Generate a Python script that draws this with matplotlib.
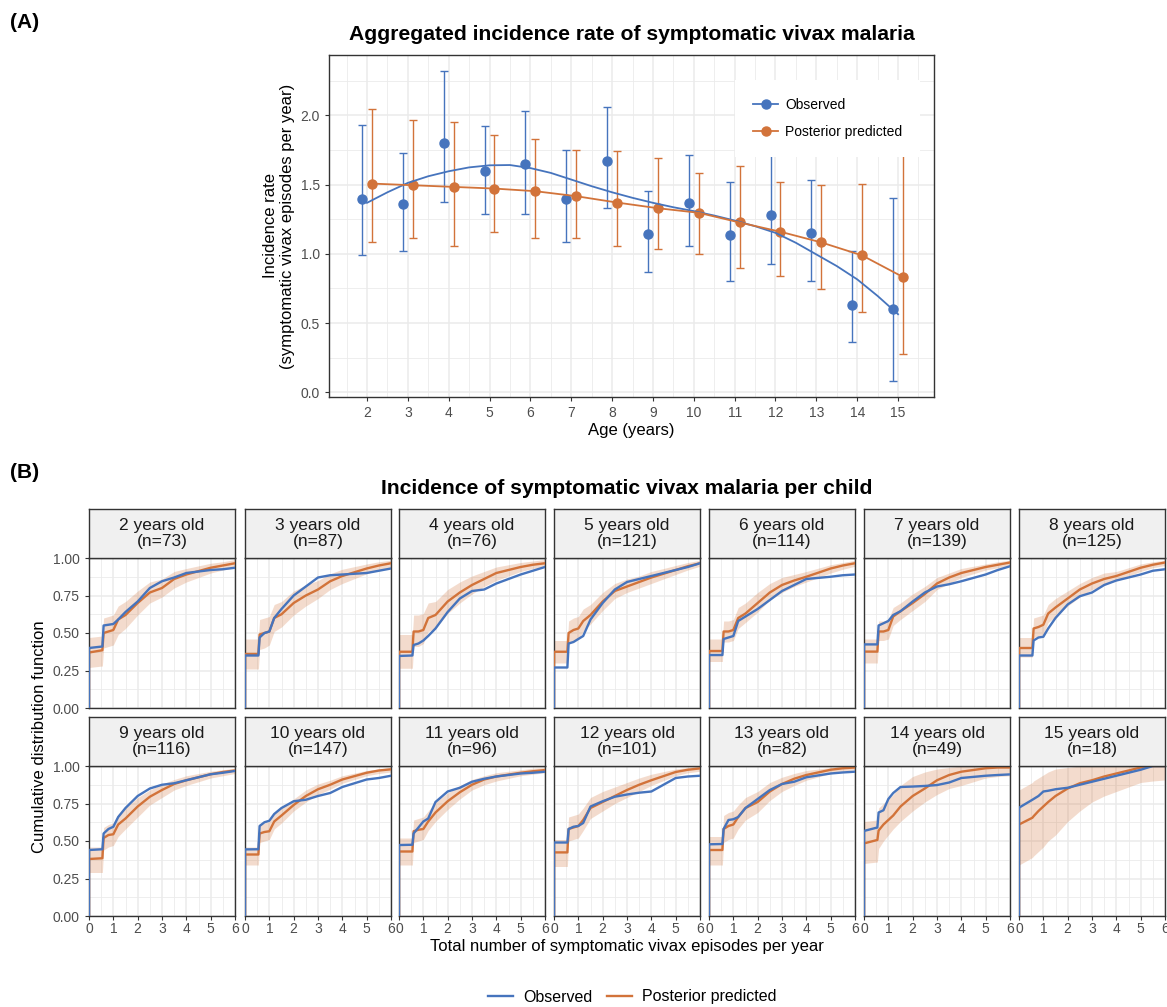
import numpy as np
import matplotlib
matplotlib.use('Agg')
import matplotlib.pyplot as plt
from matplotlib.lines import Line2D

plt.rcParams['font.family'] = ['Liberation Sans', 'DejaVu Sans']

W, H = 1167, 1007
col_obs = '#4674BD'
col_pred = '#D2733A'
grid_col = '#EBEBEB'
frame_col = '#333333'
tick_col = '#4D4D4D'

# ---------------- panel A data ----------------
ages = [2, 3, 4, 5, 6, 7, 8, 9, 10, 11, 12, 13, 14, 15]
obs_rate = [1.40, 1.36, 1.80, 1.60, 1.65, 1.40, 1.67, 1.145, 1.366, 1.136, 1.28, 1.15, 0.634, 0.605]
obs_lo = [0.994, 1.018, 1.378, 1.285, 1.289, 1.085, 1.333, 0.872, 1.056, 0.804, 0.929, 0.804, 0.36, 0.084]
obs_hi = [1.933, 1.729, 2.324, 1.926, 2.036, 1.748, 2.058, 1.457, 1.712, 1.517, 1.76, 1.537, 1.023, 1.402]
pred_rate = [1.508, 1.496, 1.484, 1.472, 1.453, 1.417, 1.371, 1.33, 1.297, 1.227, 1.16, 1.083, 0.989, 0.833]
pred_lo = [1.085, 1.114, 1.056, 1.157, 1.114, 1.116, 1.059, 1.032, 1.001, 0.898, 0.843, 0.747, 0.583, 0.276]
pred_hi = [2.046, 1.964, 1.952, 1.856, 1.83, 1.75, 1.741, 1.695, 1.585, 1.635, 1.517, 1.496, 1.503, 1.85]
# loess smooth of observed rates
smooth_age = [2.0, 2.5, 3.0, 3.5, 4.0, 4.5, 5.0, 5.5, 6.0, 6.5, 7.0, 7.5, 8.0, 8.5,
              9.0, 9.5, 10.0, 10.5, 11.0, 11.5, 12.0, 12.5, 13.0, 13.5, 14.0, 14.5, 15.0]
smooth_obs = [1.369, 1.445, 1.513, 1.561, 1.597, 1.625, 1.64, 1.642, 1.62, 1.585, 1.537, 1.489, 1.445, 1.405,
              1.369, 1.337, 1.309, 1.277, 1.241, 1.20, 1.152, 1.08, 0.996, 0.912, 0.816, 0.696, 0.564]

# ---------------- panel B data ----------------
facet_age = [2, 3, 4, 5, 6, 7, 8, 9, 10, 11, 12, 13, 14, 15]
facet_n = [73, 87, 76, 121, 114, 139, 125, 116, 147, 96, 101, 82, 49, 18]
episodes = [0, 0.55, 0.6, 0.8, 1.0, 1.2, 1.5, 2.0, 2.5, 3.0, 3.5, 4.0, 5.0, 5.5, 6.0]

cdf_obs = [
    [0.40, 0.41, 0.55, 0.555, 0.56, 0.59, 0.64, 0.71, 0.80, 0.845, 0.87, 0.90, 0.92, 0.925, 0.935],
    [0.35, 0.35, 0.47, 0.50, 0.51, 0.60, 0.66, 0.75, 0.81, 0.87, 0.885, 0.89, 0.90, 0.915, 0.93],
    [0.347, 0.35, 0.42, 0.43, 0.45, 0.48, 0.53, 0.64, 0.73, 0.78, 0.79, 0.83, 0.89, 0.915, 0.94],
    [0.27, 0.27, 0.43, 0.44, 0.46, 0.48, 0.59, 0.70, 0.79, 0.84, 0.86, 0.88, 0.92, 0.94, 0.965],
    [0.353, 0.353, 0.46, 0.47, 0.48, 0.58, 0.61, 0.66, 0.72, 0.78, 0.82, 0.86, 0.875, 0.885, 0.89],
    [0.424, 0.424, 0.55, 0.565, 0.58, 0.62, 0.645, 0.71, 0.77, 0.81, 0.825, 0.845, 0.89, 0.92, 0.945],
    [0.35, 0.35, 0.45, 0.47, 0.475, 0.53, 0.60, 0.69, 0.745, 0.77, 0.82, 0.85, 0.89, 0.915, 0.925],
    [0.44, 0.445, 0.55, 0.58, 0.595, 0.66, 0.72, 0.80, 0.85, 0.875, 0.885, 0.905, 0.945, 0.955, 0.967],
    [0.444, 0.445, 0.60, 0.625, 0.635, 0.68, 0.72, 0.765, 0.775, 0.80, 0.82, 0.86, 0.91, 0.92, 0.935],
    [0.473, 0.475, 0.55, 0.59, 0.63, 0.65, 0.76, 0.83, 0.855, 0.895, 0.915, 0.93, 0.95, 0.955, 0.962],
    [0.49, 0.49, 0.58, 0.595, 0.60, 0.62, 0.73, 0.765, 0.795, 0.81, 0.822, 0.83, 0.92, 0.93, 0.935],
    [0.478, 0.48, 0.58, 0.64, 0.645, 0.66, 0.72, 0.78, 0.84, 0.88, 0.895, 0.925, 0.95, 0.957, 0.962],
    [0.567, 0.59, 0.69, 0.705, 0.78, 0.82, 0.86, 0.863, 0.867, 0.873, 0.89, 0.92, 0.935, 0.94, 0.944],
    [0.722, 0.775, 0.78, 0.80, 0.83, 0.835, 0.845, 0.855, 0.875, 0.895, 0.915, 0.935, 0.975, 1.0, 1.0],
]
cdf_pred = [
    [0.37, 0.385, 0.50, 0.51, 0.52, 0.59, 0.62, 0.70, 0.77, 0.80, 0.86, 0.89, 0.935, 0.95, 0.965],
    [0.36, 0.36, 0.49, 0.50, 0.51, 0.60, 0.625, 0.70, 0.75, 0.79, 0.845, 0.88, 0.93, 0.95, 0.965],
    [0.375, 0.375, 0.51, 0.51, 0.52, 0.60, 0.62, 0.71, 0.77, 0.82, 0.86, 0.90, 0.94, 0.955, 0.965],
    [0.375, 0.375, 0.50, 0.52, 0.53, 0.58, 0.62, 0.71, 0.78, 0.81, 0.84, 0.87, 0.92, 0.945, 0.965],
    [0.38, 0.38, 0.51, 0.51, 0.52, 0.60, 0.63, 0.70, 0.77, 0.82, 0.85, 0.875, 0.93, 0.95, 0.965],
    [0.376, 0.376, 0.51, 0.51, 0.52, 0.61, 0.645, 0.70, 0.76, 0.83, 0.87, 0.90, 0.94, 0.955, 0.97],
    [0.40, 0.40, 0.53, 0.54, 0.555, 0.63, 0.67, 0.73, 0.79, 0.83, 0.86, 0.88, 0.935, 0.955, 0.97],
    [0.38, 0.385, 0.52, 0.54, 0.545, 0.61, 0.65, 0.73, 0.795, 0.84, 0.88, 0.905, 0.945, 0.96, 0.97],
    [0.41, 0.41, 0.55, 0.56, 0.565, 0.63, 0.67, 0.74, 0.80, 0.845, 0.875, 0.91, 0.955, 0.97, 0.978],
    [0.43, 0.43, 0.565, 0.575, 0.58, 0.63, 0.69, 0.765, 0.825, 0.875, 0.91, 0.93, 0.955, 0.965, 0.973],
    [0.424, 0.424, 0.58, 0.59, 0.60, 0.64, 0.72, 0.76, 0.80, 0.84, 0.875, 0.905, 0.96, 0.975, 0.984],
    [0.44, 0.44, 0.58, 0.60, 0.61, 0.66, 0.72, 0.76, 0.83, 0.88, 0.915, 0.94, 0.975, 0.985, 0.99],
    [0.484, 0.507, 0.57, 0.61, 0.64, 0.67, 0.73, 0.80, 0.85, 0.905, 0.94, 0.962, 0.985, 0.99, 0.99],
    [0.61, 0.655, 0.665, 0.70, 0.73, 0.76, 0.80, 0.85, 0.885, 0.905, 0.93, 0.95, 0.99, 1.0, 1.0],
]
cdf_lo = [
    [0.27, 0.28, 0.40, 0.41, 0.42, 0.49, 0.53, 0.62, 0.70, 0.74, 0.80, 0.84, 0.90, 0.92, 0.935],
    [0.26, 0.26, 0.39, 0.40, 0.42, 0.51, 0.54, 0.62, 0.68, 0.73, 0.79, 0.83, 0.895, 0.92, 0.94],
    [0.265, 0.265, 0.41, 0.41, 0.43, 0.51, 0.53, 0.63, 0.70, 0.76, 0.81, 0.85, 0.91, 0.93, 0.945],
    [0.30, 0.30, 0.43, 0.45, 0.46, 0.51, 0.56, 0.65, 0.73, 0.77, 0.80, 0.83, 0.89, 0.92, 0.945],
    [0.31, 0.31, 0.44, 0.44, 0.45, 0.53, 0.57, 0.64, 0.72, 0.77, 0.81, 0.84, 0.90, 0.925, 0.945],
    [0.30, 0.30, 0.45, 0.45, 0.46, 0.55, 0.59, 0.65, 0.71, 0.79, 0.83, 0.87, 0.92, 0.935, 0.95],
    [0.34, 0.34, 0.47, 0.48, 0.49, 0.57, 0.61, 0.68, 0.74, 0.79, 0.82, 0.85, 0.91, 0.935, 0.95],
    [0.29, 0.29, 0.44, 0.46, 0.47, 0.53, 0.58, 0.66, 0.74, 0.79, 0.84, 0.87, 0.92, 0.935, 0.95],
    [0.34, 0.34, 0.49, 0.50, 0.51, 0.58, 0.62, 0.70, 0.76, 0.81, 0.845, 0.885, 0.935, 0.95, 0.96],
    [0.34, 0.34, 0.49, 0.50, 0.51, 0.57, 0.63, 0.71, 0.78, 0.84, 0.875, 0.90, 0.935, 0.945, 0.955],
    [0.33, 0.33, 0.50, 0.51, 0.52, 0.57, 0.65, 0.70, 0.75, 0.79, 0.83, 0.87, 0.935, 0.955, 0.965],
    [0.34, 0.34, 0.49, 0.51, 0.52, 0.58, 0.64, 0.69, 0.77, 0.83, 0.87, 0.905, 0.95, 0.965, 0.975],
    [0.35, 0.36, 0.45, 0.50, 0.54, 0.58, 0.63, 0.70, 0.76, 0.81, 0.85, 0.87, 0.92, 0.93, 0.935],
    [0.34, 0.39, 0.40, 0.43, 0.46, 0.50, 0.54, 0.63, 0.70, 0.76, 0.80, 0.83, 0.89, 0.90, 0.907],
]
cdf_hi = [
    [0.47, 0.48, 0.60, 0.61, 0.62, 0.68, 0.71, 0.78, 0.84, 0.86, 0.91, 0.93, 0.965, 0.975, 0.99],
    [0.46, 0.46, 0.59, 0.60, 0.61, 0.69, 0.71, 0.78, 0.82, 0.85, 0.895, 0.925, 0.96, 0.975, 0.985],
    [0.49, 0.49, 0.62, 0.62, 0.63, 0.70, 0.71, 0.79, 0.84, 0.88, 0.91, 0.94, 0.97, 0.98, 0.99],
    [0.45, 0.45, 0.58, 0.60, 0.61, 0.66, 0.69, 0.77, 0.83, 0.86, 0.88, 0.91, 0.95, 0.97, 0.985],
    [0.46, 0.46, 0.58, 0.58, 0.59, 0.67, 0.70, 0.77, 0.83, 0.87, 0.89, 0.91, 0.955, 0.97, 0.985],
    [0.46, 0.46, 0.58, 0.58, 0.59, 0.67, 0.70, 0.76, 0.81, 0.87, 0.90, 0.93, 0.96, 0.975, 0.985],
    [0.47, 0.47, 0.60, 0.61, 0.62, 0.69, 0.73, 0.78, 0.83, 0.87, 0.90, 0.91, 0.96, 0.975, 0.985],
    [0.46, 0.46, 0.59, 0.61, 0.62, 0.68, 0.72, 0.79, 0.84, 0.88, 0.91, 0.935, 0.965, 0.975, 0.985],
    [0.46, 0.46, 0.61, 0.62, 0.63, 0.69, 0.72, 0.78, 0.84, 0.88, 0.905, 0.935, 0.97, 0.98, 0.99],
    [0.52, 0.52, 0.64, 0.65, 0.66, 0.70, 0.76, 0.82, 0.87, 0.91, 0.935, 0.955, 0.975, 0.985, 0.99],
    [0.51, 0.51, 0.66, 0.67, 0.68, 0.72, 0.79, 0.83, 0.86, 0.89, 0.92, 0.945, 0.98, 0.99, 1.0],
    [0.53, 0.53, 0.67, 0.69, 0.70, 0.74, 0.79, 0.83, 0.89, 0.925, 0.95, 0.97, 0.99, 1.0, 1.0],
    [0.63, 0.64, 0.72, 0.75, 0.78, 0.81, 0.87, 0.93, 0.96, 0.98, 0.99, 1.0, 1.0, 1.0, 1.0],
    [0.84, 0.89, 0.90, 0.92, 0.94, 0.96, 0.98, 0.99, 1.0, 1.0, 1.0, 1.0, 1.0, 1.0, 1.0],
]


def px_axes(l, t, r, b):
    return fig.add_axes([l / W, 1 - b / H, (r - l) / W, (b - t) / H])


def style_frame(ax):
    for s in ax.spines.values():
        s.set_color(frame_col)
        s.set_linewidth(1.0)
    ax.tick_params(colors=frame_col, labelcolor=tick_col, length=3, width=0.8, labelsize=10)
    ax.tick_params(which='minor', length=0)
    ax.grid(which='major', color=grid_col, linewidth=1.1, zorder=0)
    ax.grid(which='minor', color=grid_col, linewidth=0.6, zorder=0)
    ax.set_axisbelow(True)


fig = plt.figure(figsize=(W / 100, H / 100), dpi=100)

# ================= (A) =================
fig.text(10 / W, 1 - 22 / H, '(A)', fontsize=15, fontweight='bold', va='center', ha='left')
fig.text(632 / W, 1 - 35 / H, 'Aggregated incidence rate of symptomatic vivax malaria',
         fontsize=15.2, fontweight='bold', va='center', ha='center')

axA = px_axes(329, 55, 934, 397)
style_frame(axA)
ages_arr = np.array(ages)
dodge = 0.12
axA.errorbar(ages_arr - dodge, obs_rate,
             yerr=[np.array(obs_rate) - np.array(obs_lo), np.array(obs_hi) - np.array(obs_rate)],
             fmt='o', color=col_obs, ms=6.5, elinewidth=1.0, capsize=3, capthick=1.0, zorder=3)
axA.errorbar(ages_arr + dodge, pred_rate,
             yerr=[np.array(pred_rate) - np.array(pred_lo), np.array(pred_hi) - np.array(pred_rate)],
             fmt='o', color=col_pred, ms=6.5, elinewidth=1.0, capsize=3, capthick=1.0, zorder=3)
axA.plot(smooth_age, smooth_obs, color=col_obs, lw=1.3, zorder=4)
axA.plot(ages_arr + dodge, pred_rate, color=col_pred, lw=1.3, zorder=4)
axA.set_xlim(1.07, 15.88)
axA.set_ylim(-0.034, 2.437)
axA.set_xticks(ages)
axA.set_xticks(np.arange(1.5, 16, 1), minor=True)
axA.set_yticks([0.0, 0.5, 1.0, 1.5, 2.0])
axA.set_yticklabels(['0.0', '0.5', '1.0', '1.5', '2.0'])
axA.set_yticks([0.25, 0.75, 1.25, 1.75, 2.25], minor=True)
axA.set_xlabel('Age (years)', fontsize=12, labelpad=2)
axA.set_ylabel('Incidence rate\n(symptomatic vivax episodes per year)', fontsize=12, labelpad=4)
hA = [Line2D([], [], color=col_obs, marker='o', ms=6.5, lw=1.3),
      Line2D([], [], color=col_pred, marker='o', ms=6.5, lw=1.3)]
legA = axA.legend(hA, ['Observed', 'Posterior predicted'], loc='upper left',
                  bbox_to_anchor=((735 - 329) / 605, 1 - (80 - 55) / 342),
                  frameon=True, fancybox=False, facecolor='white', edgecolor='none', framealpha=1,
                  fontsize=10, handlelength=1.8, labelspacing=0.93, borderpad=1.3, handletextpad=0.5,
                  borderaxespad=0)
legA.set_zorder(10)

# ================= (B) =================
fig.text(10 / W, 1 - 473 / H, '(B)', fontsize=15, fontweight='bold', va='center', ha='left')
fig.text(627 / W, 1 - 489 / H, 'Incidence of symptomatic vivax malaria per child',
         fontsize=15.2, fontweight='bold', va='center', ha='center')

col_left = [89, 245, 399, 554, 709, 864, 1019]
pw = 146
rows = [(509, 558, 708), (717, 766, 916)]
for i in range(len(facet_age)):
    r, c = divmod(i, 7)
    st, pt, pb = rows[r]
    l = col_left[c]
    ax = px_axes(l, pt, l + pw, pb)
    style_frame(ax)
    ax.fill_between(episodes, cdf_lo[i], cdf_hi[i], color=col_pred, alpha=0.25, lw=0, zorder=2)
    ax.plot([0] + episodes, [0] + cdf_pred[i], color=col_pred, lw=1.7, zorder=3)
    ax.plot([0] + episodes, [0] + cdf_obs[i], color=col_obs, lw=1.7, zorder=4)
    ax.set_xlim(0, 6)
    ax.set_ylim(0, 1)
    ax.set_xticks(range(7))
    ax.set_xticks(np.arange(0.5, 6, 0.5), minor=True)
    ax.set_yticks([0, 0.25, 0.5, 0.75, 1.0])
    ax.set_yticks(np.arange(0.125, 1, 0.25), minor=True)
    if r == 1:
        ax.set_xticklabels([str(k) for k in range(7)])
        ax.tick_params(axis='x', pad=1)
    else:
        ax.tick_params(axis='x', length=0, labelbottom=False)
    if c == 0:
        ax.set_yticklabels(['0.00', '0.25', '0.50', '0.75', '1.00'])
    else:
        ax.tick_params(axis='y', length=0, labelleft=False)
    # strip
    sax = px_axes(l, st, l + pw, pt)
    sax.set_facecolor('#F0F0F0')
    sax.set_xticks([])
    sax.set_yticks([])
    for s in sax.spines.values():
        s.set_color(frame_col)
        s.set_linewidth(1.0)
    sax.text(0.5, 0.5, '%d years old\n(n=%d)' % (facet_age[i], facet_n[i]), transform=sax.transAxes,
             ha='center', va='center', fontsize=12.5, color='#1A1A1A', linespacing=1.15)

fig.text(40 / W, 1 - 737 / H, 'Cumulative distribution function', rotation=90,
         fontsize=12, ha='center', va='center')
fig.text(627 / W, 1 - 947 / H, 'Total number of symptomatic vivax episodes per year',
         fontsize=12, ha='center', va='center')

hB = [Line2D([], [], color=col_obs, lw=1.7), Line2D([], [], color=col_pred, lw=1.7)]
fig.legend(hB, ['Observed', 'Posterior predicted'], loc='center', bbox_to_anchor=(632 / W, 1 - 997 / H),
           ncol=2, frameon=False, fontsize=11.5, handlelength=1.6, columnspacing=0.9, handletextpad=0.6)

fig.savefig('out.png', dpi=100)
